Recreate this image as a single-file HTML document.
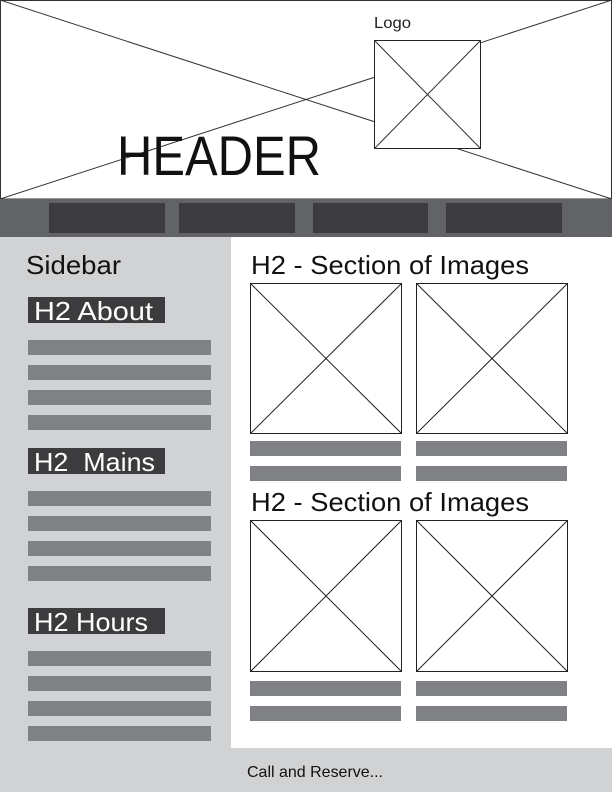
<!DOCTYPE html>
<html><head><meta charset="utf-8"><style>
body{margin:0;width:612px;height:792px;overflow:hidden;background:#fff;font-family:"Liberation Sans",sans-serif}
</style></head><body>
<svg width="612" height="792" viewBox="0 0 612 792" xmlns="http://www.w3.org/2000/svg" font-family="Liberation Sans, sans-serif">
<g>
<rect x="0.5" y="0.5" width="611" height="198.5" fill="#fff" stroke="#333" stroke-width="1"/>
<line x1="0" y1="0" x2="612" y2="199" stroke="#333"/>
<line x1="0" y1="199" x2="612" y2="0" stroke="#333"/>
<rect x="374.5" y="40.5" width="106" height="108" fill="#fff" stroke="#222"/>
<line x1="374.5" y1="40.5" x2="480.5" y2="148.5" stroke="#333"/>
<line x1="374.5" y1="148.5" x2="480.5" y2="40.5" stroke="#333"/>
<text x="374" y="28" font-size="16" fill="#222" textLength="37" lengthAdjust="spacingAndGlyphs">Logo</text>
<text x="117" y="175" font-size="56" fill="#111" textLength="204" lengthAdjust="spacingAndGlyphs">HEADER</text>
</g>
<g>
<rect x="0" y="199" width="612" height="38" fill="#626366"/>
<rect x="49" y="203" width="116" height="30" fill="#3c3c3e"/>
<rect x="179" y="203" width="116" height="30" fill="#3c3c3e"/>
<rect x="313" y="203" width="115" height="30" fill="#3c3c3e"/>
<rect x="446" y="203" width="116" height="30" fill="#3c3c3e"/>
</g>
<g>
<rect x="0" y="237" width="231" height="511" fill="#d1d2d4"/>
<text x="26" y="274" font-size="26" fill="#111" textLength="95" lengthAdjust="spacingAndGlyphs">Sidebar</text>
<rect x="28" y="297" width="137" height="26" fill="#3c3c3e"/>
<text x="34" y="320" font-size="26" fill="#fff" textLength="119" lengthAdjust="spacingAndGlyphs">H2 About</text>
<rect x="28" y="340" width="183" height="15" fill="#808184"/>
<rect x="28" y="365" width="183" height="15" fill="#808184"/>
<rect x="28" y="390" width="183" height="15" fill="#808184"/>
<rect x="28" y="415" width="183" height="15" fill="#808184"/>
<rect x="28" y="448" width="137" height="26" fill="#3c3c3e"/>
<text x="34" y="471" font-size="26" fill="#fff" textLength="121" lengthAdjust="spacingAndGlyphs" xml:space="preserve">H2  Mains</text>
<rect x="28" y="491" width="183" height="15" fill="#808184"/>
<rect x="28" y="516" width="183" height="15" fill="#808184"/>
<rect x="28" y="541" width="183" height="15" fill="#808184"/>
<rect x="28" y="566" width="183" height="15" fill="#808184"/>
<rect x="28" y="608" width="137" height="26" fill="#3c3c3e"/>
<text x="34" y="631" font-size="26" fill="#fff" textLength="114" lengthAdjust="spacingAndGlyphs">H2 Hours</text>
<rect x="28" y="651" width="183" height="15" fill="#808184"/>
<rect x="28" y="676" width="183" height="15" fill="#808184"/>
<rect x="28" y="701" width="183" height="15" fill="#808184"/>
<rect x="28" y="726" width="183" height="15" fill="#808184"/>
</g>
<g>
<text x="251" y="274" font-size="26" fill="#111" textLength="278" lengthAdjust="spacingAndGlyphs">H2 - Section of Images</text>
<g stroke="#222" fill="#fff">
<rect x="250.5" y="283.5" width="151" height="150"/>
<line x1="250.5" y1="283.5" x2="401.5" y2="433.5"/><line x1="250.5" y1="433.5" x2="401.5" y2="283.5"/>
<rect x="416.5" y="283.5" width="151" height="150"/>
<line x1="416.5" y1="283.5" x2="567.5" y2="433.5"/><line x1="416.5" y1="433.5" x2="567.5" y2="283.5"/>
</g>
<rect x="250" y="441" width="151" height="15" fill="#808184"/>
<rect x="416" y="441" width="151" height="15" fill="#808184"/>
<rect x="250" y="466" width="151" height="15" fill="#808184"/>
<rect x="416" y="466" width="151" height="15" fill="#808184"/>
<text x="251" y="511" font-size="26" fill="#111" textLength="278" lengthAdjust="spacingAndGlyphs">H2 - Section of Images</text>
<g stroke="#222" fill="#fff">
<rect x="250.5" y="520.5" width="151" height="151"/>
<line x1="250.5" y1="520.5" x2="401.5" y2="671.5"/><line x1="250.5" y1="671.5" x2="401.5" y2="520.5"/>
<rect x="416.5" y="520.5" width="151" height="151"/>
<line x1="416.5" y1="520.5" x2="567.5" y2="671.5"/><line x1="416.5" y1="671.5" x2="567.5" y2="520.5"/>
</g>
<rect x="250" y="681" width="151" height="15" fill="#808184"/>
<rect x="416" y="681" width="151" height="15" fill="#808184"/>
<rect x="250" y="706" width="151" height="15" fill="#808184"/>
<rect x="416" y="706" width="151" height="15" fill="#808184"/>
</g>
<g>
<rect x="0" y="748" width="612" height="44" fill="#d1d2d4"/>
<text x="247" y="777" font-size="16" fill="#111" textLength="136" lengthAdjust="spacingAndGlyphs">Call and Reserve...</text>
</g>
</svg>
</body></html>
